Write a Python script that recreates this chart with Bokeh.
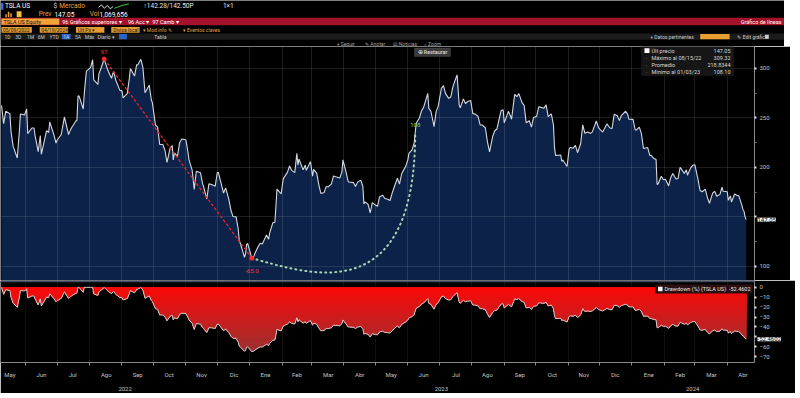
import numpy as np
import pandas as pd
from bokeh.plotting import figure
from bokeh.models import Range1d, LinearAxis, FixedTicker, Label, BoxAnnotation, Grid
from bokeh.layouts import column
from bokeh.embed import file_html
from bokeh.resources import INLINE

FONT = "Roboto"

# ---------------- data ----------------
dates_2022 = ["2022-05-09","2022-05-11","2022-05-13","2022-05-17","2022-05-18","2022-05-20","2022-05-24","2022-05-26","2022-05-27","2022-05-31",
              "2022-06-02","2022-06-03","2022-06-07","2022-06-09","2022-06-10","2022-06-13","2022-06-15","2022-06-16","2022-06-21","2022-06-23","2022-06-24","2022-06-28","2022-06-30",
              "2022-07-01","2022-07-05","2022-07-07","2022-07-08","2022-07-12","2022-07-14","2022-07-15","2022-07-19","2022-07-20","2022-07-21","2022-07-22","2022-07-26","2022-07-27","2022-07-29",
              "2022-08-02","2022-08-04","2022-08-05","2022-08-09","2022-08-10","2022-08-12","2022-08-15","2022-08-17","2022-08-19","2022-08-22","2022-08-24","2022-08-26","2022-08-30",
              "2022-09-01","2022-09-02","2022-09-06","2022-09-08","2022-09-09","2022-09-13","2022-09-15","2022-09-16","2022-09-19","2022-09-21","2022-09-23","2022-09-27","2022-09-29","2022-09-30",
              "2022-10-03","2022-10-05","2022-10-07","2022-10-10","2022-10-12","2022-10-14","2022-10-17","2022-10-19","2022-10-20","2022-10-21","2022-10-24","2022-10-26","2022-10-28",
              "2022-11-01","2022-11-03","2022-11-04","2022-11-07","2022-11-09","2022-11-11","2022-11-15","2022-11-17","2022-11-18","2022-11-21","2022-11-23","2022-11-25","2022-11-29",
              "2022-12-01","2022-12-02","2022-12-05","2022-12-07","2022-12-09","2022-12-12","2022-12-14","2022-12-16","2022-12-19","2022-12-21","2022-12-22","2022-12-23","2022-12-27","2022-12-28","2022-12-29","2022-12-30"]
close_2022 = [262.4,244.0,256.5,254.0,236.5,221.3,209.4,236.1,253.9,252.8,
              258.9,234.0,239.7,239.7,232.2,215.7,232.0,213.1,237.0,235.1,245.7,232.7,224.5,
              227.3,233.1,244.5,250.8,233.1,238.3,240.1,246.8,247.4,271.7,272.2,258.9,274.4,297.1,
              300.6,308.6,288.2,283.7,294.4,300.0,309.32,303.0,296.7,289.9,297.1,288.1,277.7,
              277.2,270.2,274.4,289.3,299.7,292.1,303.4,303.4,309.1,300.8,275.3,282.9,268.2,265.3,
              242.4,240.8,223.1,223.0,217.2,205.0,219.4,222.0,207.3,214.4,211.3,224.6,228.5,
              227.8,215.3,207.5,197.1,177.6,196.0,194.4,183.2,180.2,167.9,183.2,182.9,180.8,
              194.7,194.9,182.5,174.0,179.1,167.8,156.8,150.2,149.9,137.6,125.4,123.2,109.1,112.7,121.8,123.2]

dates_2023 = ["2023-01-03","2023-01-05","2023-01-06","2023-01-09","2023-01-11","2023-01-13","2023-01-17","2023-01-19","2023-01-20","2023-01-23","2023-01-25","2023-01-26","2023-01-27","2023-01-31",
              "2023-02-02","2023-02-03","2023-02-06","2023-02-08","2023-02-10","2023-02-13","2023-02-15","2023-02-16","2023-02-17","2023-02-21","2023-02-23","2023-02-24","2023-02-28",
              "2023-03-02","2023-03-03","2023-03-06","2023-03-08","2023-03-10","2023-03-13","2023-03-15","2023-03-17","2023-03-20","2023-03-22","2023-03-24","2023-03-28","2023-03-30","2023-03-31",
              "2023-04-03","2023-04-05","2023-04-06","2023-04-10","2023-04-12","2023-04-14","2023-04-17","2023-04-19","2023-04-20","2023-04-21","2023-04-24","2023-04-26","2023-04-28",
              "2023-05-01","2023-05-03","2023-05-05","2023-05-08","2023-05-10","2023-05-12","2023-05-15","2023-05-17","2023-05-19","2023-05-22","2023-05-24","2023-05-26","2023-05-30",
              "2023-06-01","2023-06-02","2023-06-05","2023-06-07","2023-06-08","2023-06-09","2023-06-12","2023-06-14","2023-06-16","2023-06-20","2023-06-21","2023-06-23","2023-06-26","2023-06-28","2023-06-30",
              "2023-07-03","2023-07-05","2023-07-07","2023-07-10","2023-07-12","2023-07-14","2023-07-17","2023-07-18","2023-07-20","2023-07-21","2023-07-24","2023-07-26","2023-07-28","2023-07-31",
              "2023-08-02","2023-08-04","2023-08-07","2023-08-09","2023-08-11","2023-08-14","2023-08-16","2023-08-18","2023-08-21","2023-08-23","2023-08-25","2023-08-29","2023-08-31",
              "2023-09-01","2023-09-05","2023-09-07","2023-09-08","2023-09-11","2023-09-13","2023-09-15","2023-09-18","2023-09-20","2023-09-22","2023-09-25","2023-09-27","2023-09-29",
              "2023-10-02","2023-10-04","2023-10-06","2023-10-09","2023-10-11","2023-10-13","2023-10-16","2023-10-18","2023-10-19","2023-10-20","2023-10-23","2023-10-25","2023-10-26","2023-10-27","2023-10-31",
              "2023-11-02","2023-11-03","2023-11-06","2023-11-08","2023-11-10","2023-11-13","2023-11-15","2023-11-17","2023-11-20","2023-11-22","2023-11-24","2023-11-28","2023-11-30",
              "2023-12-01","2023-12-04","2023-12-06","2023-12-08","2023-12-11","2023-12-13","2023-12-15","2023-12-18","2023-12-20","2023-12-22","2023-12-26","2023-12-28","2023-12-29"]
close_2023 = [108.10,110.3,113.1,119.8,123.2,122.4,131.5,127.2,133.4,143.8,144.4,160.3,177.9,173.2,
              188.3,190.0,194.8,201.3,196.9,194.6,214.2,202.0,208.3,197.4,202.1,196.9,205.7,
              190.9,197.8,193.8,182.0,173.4,174.5,180.5,180.1,183.3,191.2,190.4,189.2,195.3,207.5,
              194.8,185.5,185.1,184.5,180.5,185.0,187.0,180.6,163.0,165.1,162.6,153.8,164.3,
              161.8,160.6,170.1,171.8,168.5,168.0,166.4,173.9,180.1,188.9,182.9,193.2,201.2,
              207.5,214.0,217.6,224.6,234.9,244.4,249.8,256.8,260.5,274.5,259.5,256.6,241.1,256.2,261.8,
              279.8,282.5,274.4,269.6,271.0,281.4,290.4,293.3,262.9,260.0,269.1,264.4,266.4,267.4,
              254.1,253.9,251.5,242.7,242.7,239.8,225.6,215.5,231.3,236.9,238.6,257.2,258.1,
              245.0,256.5,251.5,248.5,273.6,271.3,274.4,265.3,262.6,244.9,247.0,240.5,250.2,
              251.6,261.2,260.5,259.7,263.0,251.1,253.9,242.7,220.1,212.0,212.1,212.4,205.8,207.3,200.8,
              218.5,220.0,219.3,222.2,214.7,223.7,242.8,234.3,235.6,234.2,235.5,246.7,240.1,
              238.8,235.6,239.4,243.8,239.7,239.3,253.5,252.1,247.1,252.5,256.6,253.2,248.5]

dates_2024 = ["2024-01-02","2024-01-04","2024-01-05","2024-01-08","2024-01-10","2024-01-12","2024-01-16","2024-01-18","2024-01-19","2024-01-22","2024-01-24","2024-01-25","2024-01-26","2024-01-29","2024-01-31",
              "2024-02-02","2024-02-05","2024-02-07","2024-02-09","2024-02-12","2024-02-14","2024-02-16","2024-02-20","2024-02-22","2024-02-23","2024-02-26","2024-02-28",
              "2024-03-01","2024-03-04","2024-03-06","2024-03-08","2024-03-11","2024-03-13","2024-03-15","2024-03-18","2024-03-20","2024-03-22","2024-03-25","2024-03-27","2024-03-28",
              "2024-04-01","2024-04-02","2024-04-04","2024-04-05","2024-04-08","2024-04-10","2024-04-12","2024-04-15","2024-04-16","2024-04-17","2024-04-18","2024-04-19"]
close_2024 = [248.4,237.9,237.5,240.5,233.9,218.9,219.9,211.9,212.2,208.8,207.8,182.6,183.3,190.9,187.3,
              187.9,181.1,189.6,193.6,188.1,188.7,200.0,193.8,197.4,192.0,199.4,202.0,
              202.6,188.1,176.5,175.3,177.8,169.5,163.6,173.8,175.7,170.8,172.6,179.8,175.8,
              175.2,166.6,171.1,164.9,173.0,171.8,171.1,161.5,157.1,155.5,149.9,147.05]

month_labels = ["May","Jun","Jul","Ago","Sep","Oct","Nov","Dic","Ene","Feb","Mar","Abr",
                "May","Jun","Jul","Ago","Sep","Oct","Nov","Dic","Ene","Feb","Mar","Abr"]
year_labels = ["2022", "2023", "2024"]
price_ticks = [100, 150, 200, 250, 300]
dd_ticks = [0, -10, -20, -30, -40, -50, -60, -70]

legend_names = ["Últ precio", "Máximo al 08/15/22", "Promedio", "Mínimo al 01/03/23"]
legend_values = ["147.05", "309.32", "218.8344", "108.10"]
dd_legend_name = "Drawdown (%) (TSLA US)"
drop_days_label = "97"
drop_pct_label = "-65.0"
recovery_days_label = "108"
recovery_date = "2023-06-08"

# ---------------- derived ----------------
dates = dates_2022 + dates_2023 + dates_2024
close = close_2022 + close_2023 + close_2024
assert len(dates) == len(close)
start = pd.Timestamp("2022-05-09")
x = np.array((pd.to_datetime(dates) - start).days, dtype=float)
y = np.array(close, dtype=float)
dd = (y / np.maximum.accumulate(y) - 1.0) * 100.0

ipk = int(np.argmax(y)); itr = int(np.argmin(y))
irec = dates.index(recovery_date)

mstarts = pd.date_range("2022-05-01", "2024-05-01", freq="MS")
month_start_days = [int((d - start).days) for d in mstarts]
month_mid_days = [int(round((mstarts[i] - start).days + (mstarts[i + 1] - mstarts[i]).days / 2))
                  for i in range(len(mstarts) - 1)]
X0, X1 = -1.0, 719.0
ybounds = [X0, (pd.Timestamp("2023-01-01") - start).days, (pd.Timestamp("2024-01-01") - start).days, X1]
year_mid_days = [int(round((ybounds[i] + ybounds[i + 1]) / 2)) for i in range(3)]

# ---------------- layout constants ----------------
W = 754
H = 234
Y0, Y1 = 85.6, 322.0
QH = 82
QY0, QY1 = -76.0, 7.0
GRID = "#ffffff"
TXT = "#c4c4c4"


def mx(px):
    return X0 + px * (X1 - X0) / W


def my(py):
    return Y1 - py * (Y1 - Y0) / H


def qmy(py):
    return QY1 - py * (QY1 - QY0) / QH


def mklabel(xx, yy, text, color, size="6px", align="left", bg=None, xoff=0):
    kw = {}
    if bg is not None:
        kw = dict(background_fill_color=bg, background_fill_alpha=1.0)
    return Label(x=xx, y=yy, text=text, text_color=color, text_font_size=size,
                 text_align=align, text_baseline="middle", text_font=FONT,
                 x_offset=xoff, **kw)


def lab(fig, *a, **k):
    fig.add_layout(mklabel(*a, **k))


# ---------------- header ----------------
h = figure(frame_width=784, frame_height=46, x_range=Range1d(0, 800), y_range=Range1d(47, 0),
           output_backend="svg", toolbar_location=None, x_axis_location=None, y_axis_location=None,
           background_fill_color="black", border_fill_color="black", outline_line_color=None,
           min_border=0)
h.grid.visible = False


def hbox(l, r, t, b, c):
    h.quad(left=[l], right=[r], top=[t], bottom=[b], fill_color=c, line_color=None)


hbox(0.5, 3.0, 2.5, 9.5, "#2d6fe0")
hbox(5, 6.5, 14, 17, "#e8a33c"); hbox(7.5, 9, 11.5, 17, "#e8a33c"); hbox(10, 11.5, 13, 17, "#e8a33c")
hbox(16.5, 21.5, 11, 17, "#e9c23a")
hbox(0, 800, 17.6, 25.4, "#a3112a")
hbox(1, 60, 18.3, 24.7, "#f2a33a")
for l_, r_ in [(1, 32), (40, 69), (77, 106), (113, 142)]:
    hbox(l_, r_, 27.2, 33.0, "#e49b2f")
hbox(0, 800, 33.6, 40.2, "#1b1b1b")
hbox(62.5, 71.5, 34.2, 39.6, "#2c64c8")
hbox(121, 129, 34.2, 39.6, "#2c64c8")
hbox(714, 744, 34.2, 39.6, "#e8a030")
hbox(780, 784, 35, 39, "#cccccc")
h.line(x=[100, 103, 106, 109, 112, 115], y=[7, 4.5, 8, 5, 8.5, 6], line_color="#dddddd", line_width=1)
h.line(x=[116, 124, 131], y=[8, 5, 3.5], line_color="#3cc43c", line_width=1)

lab(h, 4.5, 6, "TSLA US", "#ffffff", "6.5px")
lab(h, 54, 6, "$", "#cfcfcf", "6.5px")
lab(h, 60, 6, "Mercado", "#e8a33c", "6.5px")
lab(h, 146, 6, "↑142.28/142.50P", "#e6e6e6", "6.5px")
lab(h, 227, 6, "1×1", "#e6e6e6", "6.5px")
lab(h, 39, 14, "Prev", "#e8a33c", "6.5px")
lab(h, 55, 14, "147.05", "#ffffff", "6.5px")
lab(h, 91, 14, "Vol", "#e8a33c", "6.5px")
lab(h, 101, 14, "1,069,656", "#ffffff", "6.5px")
lab(h, 3, 21.5, "TSLA US Equity", "#111111", "5.5px")
lab(h, 63, 21.5, "96 Gráficos superiores ▾", "#ffffff", "5.5px")
lab(h, 130, 21.5, "96 Acc ▾", "#ffffff", "5.5px")
lab(h, 155, 21.5, "97 Camb ▾", "#ffffff", "5.5px")
lab(h, 797, 21.5, "Gráfico de líneas", "#ffffff", "5.5px", align="right")
for xx, tt in [(2.5, "05/09/2022"), (41.5, "04/19/2024"), (79, "Últ Px ▾"), (115, "Divisa local")]:
    lab(h, xx, 30.2, tt, "#1a1a1a", "5px")
lab(h, 145, 30.2, "▾ Mod info ✎", "#e3a443", "5px")
lab(h, 186, 30.2, "▾ Eventos claves", "#e3a443", "5px")
for xx, tt in [(4, "1D"), (15, "3D"), (27, "1M"), (38, "6M"), (50, "YTD"), (64, "1A"), (76, "5A"),
               (86, "Máx"), (99, "Diario ▾"), (157, "Tabla")]:
    lab(h, xx, 37, tt, "#c8c8c8", "5px")
lab(h, 663, 37, "+ Datos pertinentes", "#c8c8c8", "5px")
lab(h, 752, 37, "✎ Edit gráfico", "#c8c8c8", "5px")
for xx, tt in [(343, "+ Seguir"), (372, "✎ Anotar"), (400, "▤ Noticias"), (432, "⌕ Zoom")]:
    lab(h, xx, 44.2, tt, "#a0a0a0", "5px")

# ---------------- price panel ----------------
p = figure(frame_width=W, frame_height=H, x_range=Range1d(X0, X1), y_range=Range1d(Y0, Y1),
           output_backend="svg", toolbar_location=None, x_axis_location=None, y_axis_location="right",
           background_fill_color="black", border_fill_color="black", outline_line_color=None,
           min_border_left=0, min_border_right=30, min_border_top=0, min_border_bottom=0)
p.grid.visible = False
p.add_layout(Grid(dimension=0, ticker=FixedTicker(ticks=month_start_days),
                  grid_line_color=GRID, grid_line_alpha=0.11))
p.add_layout(Grid(dimension=1, ticker=FixedTicker(ticks=price_ticks),
                  grid_line_color=GRID, grid_line_alpha=0.11))
p.varea(x=x, y1=np.full(len(x), Y0), y2=y, fill_color="#0c2248", level="image")
p.line(x, y, line_color="#d4d8de", line_width=1.1)

# peak -> trough drop
p.line(x=[x[ipk], x[itr]], y=[y[ipk], y[itr]], line_color="#e8242c", line_width=1.3, line_dash="3 2")
# recovery curve
span = x[irec] - x[itr]
p.bezier(x0=[x[itr]], y0=[y[itr]], x1=[x[irec]], y1=[y[irec]],
         cx0=[x[itr] + 0.35 * span], cy0=[92.0], cx1=[x[irec]], cy1=[55.0],
         line_color="#a9d6b4", line_width=2.0, line_dash="1 4", line_cap="round")
p.scatter(x=[x[ipk], x[itr]], y=[y[ipk], y[itr]], size=4, color="#ff2a2a")
ppx = (Y1 - Y0) / H
lab(p, x[ipk], y[ipk] + 7 * ppx, drop_days_label, "#ff3b3b", "6px", align="center")
lab(p, x[itr], y[itr] - 13 * ppx, drop_pct_label, "#ff3b3b", "6px", align="center")
lab(p, x[irec], y[irec] + 8 * ppx, recovery_days_label, "#84d64e", "6px", align="center")

# axis
yax = p.yaxis[0]
yax.ticker = FixedTicker(ticks=price_ticks, minor_ticks=[125, 175, 225, 275])
yax.major_label_overrides = {150: ""}
yax.axis_line_color = "#8a8a8a"
yax.major_tick_line_color = "#e6e6e6"
yax.major_tick_line_width = 2
yax.major_tick_in = 0
yax.major_tick_out = 2
yax.minor_tick_line_color = "#777777"
yax.minor_tick_in = 0
yax.minor_tick_out = 2
yax.major_label_text_color = TXT
yax.major_label_text_font_size = "6px"
yax.major_label_text_font = FONT
yax.major_label_standoff = 3
# last-price tag sits on the axis strip (side panel: not clipped to the frame)
p.add_layout(mklabel(X1, y[-1], f"{y[-1]:.2f}", "#111111", "6px", bg="#f2f2f2", xoff=3), "right")

# legend box
p.add_layout(BoxAnnotation(left=mx(641), right=mx(733), top=my(0), bottom=my(29),
                           fill_color="#171717", fill_alpha=0.95, line_color="#2b2b2b"))
p.add_layout(BoxAnnotation(left=mx(644), right=mx(649), top=my(1.8), bottom=my(6.4),
                           fill_color="#ffffff", fill_alpha=1.0, line_color=None))
for i, (nm, vv) in enumerate(zip(legend_names, legend_values)):
    yy = my(4.2 + 7 * i)
    if i > 0:
        lab(p, mx(645), yy, "·", "#bbbbbb", "6px")
    lab(p, mx(651), yy, nm, "#d8d8d8", "5.5px")
    lab(p, mx(730), yy, vv, "#d8d8d8", "5.5px", align="right")

# restaurar button
p.add_layout(BoxAnnotation(left=mx(414), right=mx(450), top=my(1.5), bottom=my(10),
                           fill_color="#3a3a3a", fill_alpha=1.0, line_color="#555555"))
lab(p, mx(417), my(5.8), "⊕ Restaurar", "#e8e8e8", "5.5px")

# ---------------- drawdown panel ----------------
q = figure(frame_width=W, frame_height=QH, x_range=p.x_range, y_range=Range1d(QY0, QY1),
           output_backend="svg", toolbar_location=None, y_axis_location="right",
           background_fill_color="black", border_fill_color="black", outline_line_color=None,
           min_border_left=0, min_border_right=30, min_border_top=0, min_border_bottom=0)
q.grid.visible = False
q.add_layout(Grid(dimension=0, ticker=FixedTicker(ticks=month_start_days),
                  grid_line_color=GRID, grid_line_alpha=0.13, grid_line_dash="1 1"))

c_top = np.array([252, 8, 8]); c_bot = np.array([150, 52, 52])
levels = np.arange(-76, 0, 2)
for lv in levels:
    f = min(1.0, -lv / 70.0)
    c = (c_top + (c_bot - c_top) * f).astype(int)
    q.varea(x=x, y1=np.zeros(len(x)), y2=np.clip(dd, lv, 0),
            fill_color="#%02x%02x%02x" % tuple(c))
q.line(x, dd, line_color="#d0d0d0", line_width=1.0)

# top divider
q.add_layout(BoxAnnotation(top=QY1, bottom=qmy(1.8), fill_color="#3c4a62", fill_alpha=1.0, line_color=None))

qy = q.yaxis[0]
qy.ticker = FixedTicker(ticks=dd_ticks)
qy.major_label_overrides = {-50: ""}
qy.axis_line_color = "#8a8a8a"
qy.major_tick_line_color = "#e6e6e6"
qy.major_tick_line_width = 2
qy.major_tick_in = 0
qy.major_tick_out = 2
qy.major_label_text_color = TXT
qy.major_label_text_font_size = "6px"
qy.major_label_text_font = FONT
qy.major_label_standoff = 3
q.add_layout(mklabel(X1, dd[-1], f"{dd[-1]:.4f}", "#111111", "6px", bg="#f2f2f2", xoff=3), "right")

qx = q.xaxis[0]
qx.ticker = FixedTicker(ticks=month_mid_days, minor_ticks=month_start_days)
qx.major_label_overrides = {t: l for t, l in zip(month_mid_days, month_labels)}
qx.axis_line_color = "#8a8a8a"
qx.major_tick_line_color = None
qx.minor_tick_line_color = "#8a8a8a"
qx.minor_tick_in = 0
qx.minor_tick_out = 3
qx.major_label_text_color = TXT
qx.major_label_text_font_size = "6px"
qx.major_label_text_font = FONT
qx.major_label_standoff = 2

yr = LinearAxis(ticker=FixedTicker(ticks=year_mid_days),
                major_label_overrides={t: l for t, l in zip(year_mid_days, year_labels)},
                axis_line_color=None, major_tick_line_color=None, minor_tick_line_color=None,
                major_label_text_color=TXT, major_label_text_font_size="6px",
                major_label_text_font=FONT, major_label_standoff=0)
q.add_layout(yr, "below")

# drawdown legend
q.add_layout(BoxAnnotation(left=mx(655), right=mx(752), top=qmy(4), bottom=qmy(13),
                           fill_color="#2a1012", fill_alpha=1.0, line_color=None))
q.add_layout(BoxAnnotation(left=mx(657.5), right=mx(662), top=qmy(6.3), bottom=qmy(10.7),
                           fill_color="#ffffff", fill_alpha=1.0, line_color=None))
lab(q, mx(664), qmy(8.5), dd_legend_name, "#e8e8e8", "5.5px")
lab(q, mx(750), qmy(8.5), f"{dd[-1]:.4f}", "#e8e8e8", "5.5px", align="right")

layout = column(h, p, q, spacing=0)
open("out.html", "w").write(file_html(layout, INLINE))
